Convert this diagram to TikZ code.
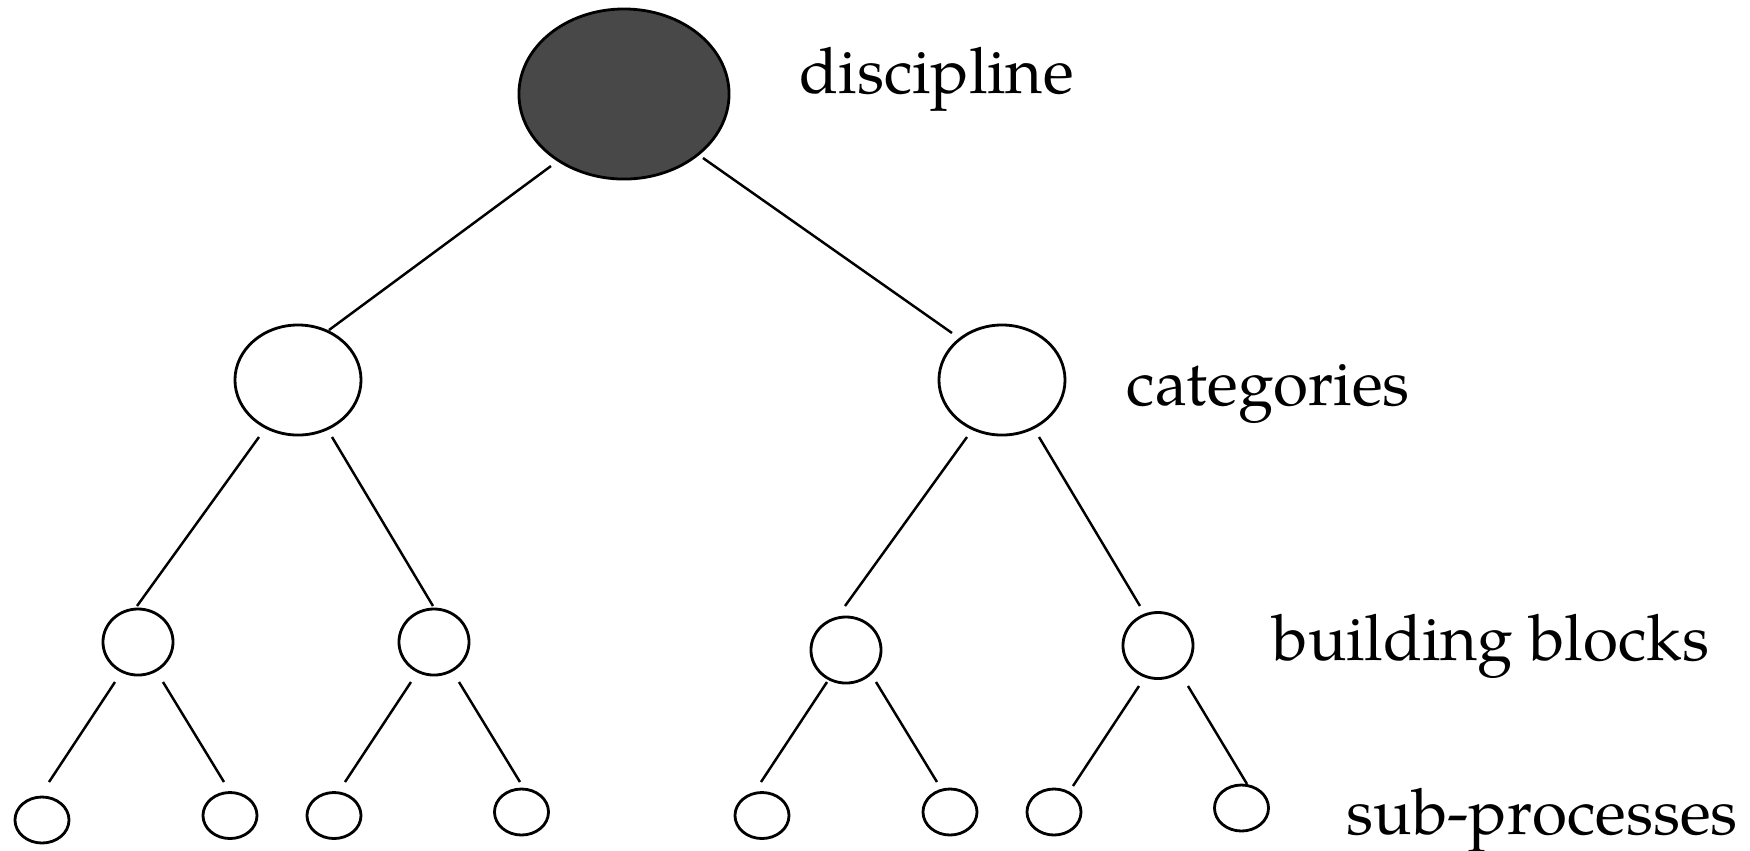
\documentclass[tikz,border=0pt]{standalone}
\usepackage{fontspec}
\setmainfont{TeX Gyre Pagella}
\usetikzlibrary{shapes.geometric,calc}
\definecolor{rootgray}{RGB}{72,72,72}
\begin{document}
\begin{tikzpicture}[x=0.01cm,y=-0.01cm,
  rootnode/.style={ellipse,draw=black,line width=0.8pt,fill=rootgray,minimum width=2.1cm,minimum height=1.7cm,inner sep=0pt},
  catnode/.style={ellipse,draw=black,line width=0.8pt,fill=white,minimum width=1.26cm,minimum height=1.10cm,inner sep=0pt},
  bbnode/.style={ellipse,draw=black,line width=0.8pt,fill=white,minimum width=0.70cm,minimum height=0.66cm,inner sep=0pt},
  spnode/.style={ellipse,draw=black,line width=0.8pt,fill=white,minimum width=0.54cm,minimum height=0.46cm,inner sep=0pt},
  link/.style={draw=black,line width=0.7pt},
  lbl/.style={anchor=base west,inner sep=0pt,font=\fontsize{18.15pt}{21pt}\selectfont}]
\useasboundingbox[fill=white] (0,0) rectangle (1750,850);
% nodes
\node[rootnode] (root) at (624,94) {};
\node[catnode] (c1) at (298,380) {};
\node[catnode] (c2) at (1002,380) {};
\node[bbnode] (b1) at (138,642) {};
\node[bbnode] (b2) at (434,642) {};
\node[bbnode] (b3) at (846,650) {};
\node[bbnode] (b4) at (1158,645.5) {};
\node[spnode] (s1) at (42,820) {};
\node[spnode] (s2) at (230,815.5) {};
\node[spnode] (s3) at (334,815.5) {};
\node[spnode] (s4) at (521.5,812) {};
\node[spnode] (s5) at (762,815.5) {};
\node[spnode] (s6) at (950,812) {};
\node[spnode] (s7) at (1054,812) {};
\node[spnode] (s8) at (1241.5,808) {};
% labels
\node[lbl] (tdisc) at (799,93) {discipline};
\node[lbl] (tcat) at (1126,405) {categories};
\node[lbl] (tbb) at (1272,660) {building blocks};
\node[lbl] (tsp) at (1346,834) {sub-processes};
% connectors
\draw[link] ($(root)+(-73,72)$) -- ($(c1)+(31,-50)$);
\draw[link] ($(root)+(79,64)$) -- ($(c2)+(-50,-47)$);
\draw[link] ($(c1)+(-39,57)$) -- ($(b1)+(-1,-36)$);
\draw[link] ($(c1)+(34,57)$) -- ($(b2)+(-1,-36)$);
\draw[link] ($(c2)+(-35,57)$) -- ($(b3)+(-1,-44)$);
\draw[link] ($(c2)+(37,57)$) -- ($(b4)+(-18,-39.5)$);
\draw[link] ($(b1)+(-23,40)$) -- ($(s1)+(7,-38)$);
\draw[link] ($(b1)+(25,40)$) -- ($(s2)+(-6,-33.5)$);
\draw[link] ($(b2)+(-23,40)$) -- ($(s3)+(11,-33.5)$);
\draw[link] ($(b2)+(25,40)$) -- ($(s4)+(-1.5,-30)$);
\draw[link] ($(b3)+(-19,32)$) -- ($(s5)+(-1,-33.5)$);
\draw[link] ($(b3)+(30,32)$) -- ($(s6)+(-13,-30)$);
\draw[link] ($(b4)+(-19,40.5)$) -- ($(s7)+(19,-26)$);
\draw[link] ($(b4)+(30,40.5)$) -- ($(s8)+(5.5,-24)$);
\end{tikzpicture}
\end{document}
